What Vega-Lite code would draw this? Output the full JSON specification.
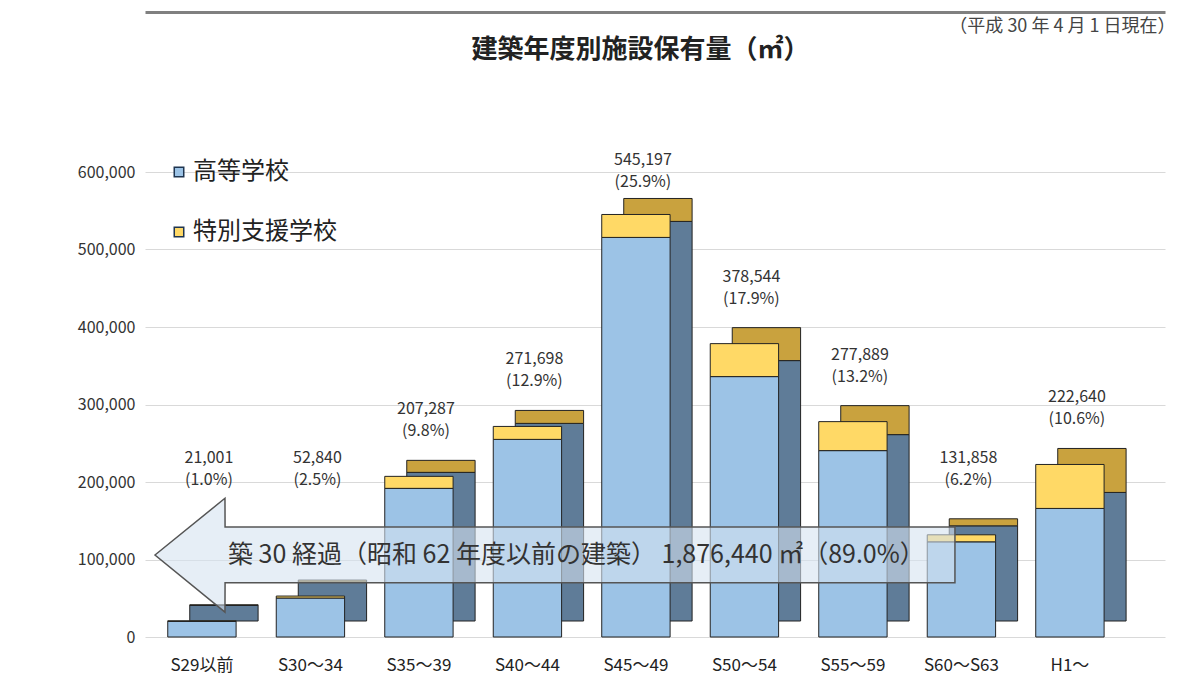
{
  "$schema": "https://vega.github.io/schema/vega-lite/v6.json",
  "width": 1020,
  "height": 465,
  "autosize": {"type": "none"},
  "padding": {"left": 145, "top": 172, "right": 15, "bottom": 63},
  "background": "white",
  "config": {"view": {"stroke": null}, "font": "Noto Sans CJK JP"},
  "datasets": {
    "bars": [
      {"period": "S29以前", "type": "高等学校", "area": 20000},
      {"period": "S29以前", "type": "特別支援学校", "area": 1001},
      {"period": "S30～34", "type": "高等学校", "area": 50300},
      {"period": "S30～34", "type": "特別支援学校", "area": 2540},
      {"period": "S35～39", "type": "高等学校", "area": 191800},
      {"period": "S35～39", "type": "特別支援学校", "area": 15487},
      {"period": "S40～44", "type": "高等学校", "area": 255000},
      {"period": "S40～44", "type": "特別支援学校", "area": 16698},
      {"period": "S45～49", "type": "高等学校", "area": 515600},
      {"period": "S45～49", "type": "特別支援学校", "area": 29597},
      {"period": "S50～54", "type": "高等学校", "area": 336000},
      {"period": "S50～54", "type": "特別支援学校", "area": 42544},
      {"period": "S55～59", "type": "高等学校", "area": 240500},
      {"period": "S55～59", "type": "特別支援学校", "area": 37389},
      {"period": "S60～S63", "type": "高等学校", "area": 122800},
      {"period": "S60～S63", "type": "特別支援学校", "area": 9058},
      {"period": "H1～", "type": "高等学校", "area": 165900},
      {"period": "H1～", "type": "特別支援学校", "area": 56740}
    ],
    "labels": [
      {"period": "S29以前", "total": 21001, "text": "21,001\n(1.0%)"},
      {"period": "S30～34", "total": 52840, "text": "52,840\n(2.5%)"},
      {"period": "S35～39", "total": 207287, "text": "207,287\n(9.8%)"},
      {"period": "S40～44", "total": 271698, "text": "271,698\n(12.9%)"},
      {"period": "S45～49", "total": 545197, "text": "545,197\n(25.9%)"},
      {"period": "S50～54", "total": 378544, "text": "378,544\n(17.9%)"},
      {"period": "S55～59", "total": 277889, "text": "277,889\n(13.2%)"},
      {"period": "S60～S63", "total": 131858, "text": "131,858\n(6.2%)"},
      {"period": "H1～", "total": 222640, "text": "222,640\n(10.6%)"}
    ],
    "arrow": [
      {"xa": 0.092, "top": 105800, "bottom": 105800},
      {"xa": 0.737, "top": 179000, "bottom": 32000},
      {"xa": 0.738, "top": 142000, "bottom": 70000},
      {"xa": 7.465, "top": 142000, "bottom": 70000}
    ],
    "arrowText": [
      {"xa": 0.765, "y": 105800, "text": "築 30 経過（昭和 62 年度以前の建築）  1,876,440 ㎡（89.0%）"}
    ]
  },
  "resolve": {"scale": {"x": "independent"}, "axis": {"x": "independent"}},
  "layer": [
    {
      "encoding": {
        "x": {
          "field": "period",
          "type": "nominal",
          "sort": ["S29以前", "S30～34", "S35～39", "S40～44", "S45～49", "S50～54", "S55～59", "S60～S63", "H1～"],
          "scale": {"paddingInner": 0.37, "paddingOuter": 0.3855, "align": 0.272},
          "axis": {
            "title": null,
            "labelAngle": 0,
            "labelFontSize": 17,
            "labelColor": "#222",
            "labelPadding": 20,
            "ticks": false,
            "domain": false,
            "grid": false
          }
        }
      },
      "layer": [
        {
          "data": {"name": "bars"},
          "mark": {"type": "bar", "xOffset": 22, "yOffset": -16, "stroke": "#222", "strokeWidth": 1},
          "encoding": {
            "y": {
              "field": "area",
              "type": "quantitative",
              "stack": "zero",
              "scale": {"domain": [0, 600000], "nice": false},
              "axis": {
                "values": [0, 100000, 200000, 300000, 400000, 500000, 600000],
                "format": ",",
                "labelExpr": "format(datum.value, ',')",
                "labelFontSize": 16,
                "labelColor": "#333",
                "labelPadding": 10,
                "ticks": false,
                "domain": false,
                "gridColor": "#d9d9d9",
                "title": "（平成 30 年 4 月 1 日現在）",
                "titleAngle": 0,
                "titleAlign": "right",
                "titleBaseline": "middle",
                "titleX": 1030,
                "titleY": -146,
                "titleFontSize": 18,
                "titleFontWeight": "normal",
                "titleColor": "#444"
              }
            },
            "order": {"field": "type", "type": "nominal", "sort": "descending"},
            "fill": {
              "condition": {"test": "datum.type === '高等学校'", "value": "#5f7c98"},
              "value": "#c9a23e"
            }
          }
        },
        {
          "data": {"name": "bars"},
          "mark": {"type": "bar", "stroke": "#222", "strokeWidth": 1},
          "encoding": {
            "y": {"field": "area", "type": "quantitative", "stack": "zero"},
            "order": {"field": "type", "type": "nominal", "sort": "descending"},
            "color": {
              "field": "type",
              "type": "nominal",
              "scale": {"domain": ["高等学校", "特別支援学校"], "range": ["#9cc3e6", "#ffd966"]},
              "legend": {
                "title": null,
                "orient": "none",
                "legendX": 22,
                "legendY": -12,
                "symbolType": "square",
                "symbolSize": 90,
                "symbolStrokeColor": "#1f3550",
                "symbolStrokeWidth": 1.5,
                "symbolOpacity": 1,
                "labelFontSize": 24,
                "labelColor": "#222",
                "labelOffset": 2,
                "rowPadding": 36
              }
            }
          }
        },
        {
          "data": {"name": "labels"},
          "transform": [{"filter": "datum.total >= 150000 && datum.total < 500000"}],
          "mark": {"type": "text", "baseline": "bottom", "lineBreak": "\n", "lineHeight": 22, "dx": 7, "dy": -59, "fontSize": 16, "color": "#333"},
          "encoding": {
            "y": {"field": "total", "type": "quantitative"},
            "text": {"field": "text"}
          }
        },
        {
          "data": {"name": "labels"},
          "transform": [{"filter": "datum.total >= 500000"}],
          "mark": {"type": "text", "baseline": "bottom", "lineBreak": "\n", "lineHeight": 22, "dx": 7, "dy": -46, "fontSize": 16, "color": "#333"},
          "encoding": {
            "y": {"field": "total", "type": "quantitative"},
            "text": {"field": "text"}
          }
        },
        {
          "data": {"name": "labels"},
          "transform": [{"filter": "datum.total < 150000"}],
          "mark": {"type": "text", "baseline": "bottom", "lineBreak": "\n", "lineHeight": 22, "dx": 7, "dy": -59, "fontSize": 16, "color": "#333"},
          "encoding": {
            "y": {
              "datum": 145000,
              "type": "quantitative",
              "axis": {
                "values": [0, 100000, 200000, 300000, 400000, 500000, 600000],
                "format": ",",
                "labelExpr": "format(datum.value, ',')",
                "labelFontSize": 16,
                "labelColor": "#333",
                "labelPadding": 10,
                "ticks": false,
                "domain": false,
                "gridColor": "#d9d9d9",
                "title": "（平成 30 年 4 月 1 日現在）",
                "titleAngle": 0,
                "titleAlign": "right",
                "titleBaseline": "middle",
                "titleX": 1030,
                "titleY": -146,
                "titleFontSize": 18,
                "titleFontWeight": "normal",
                "titleColor": "#444"
              }
            },
            "text": {"field": "text"}
          }
        }
      ]
    },
    {
      "encoding": {
        "x": {
          "field": "xa",
          "type": "quantitative",
          "scale": {"domain": [0, 9.401], "nice": false, "zero": false},
          "axis": {
            "orient": "top",
            "offset": 160,
            "labels": false,
            "ticks": false,
            "domain": true,
            "domainColor": "#808080",
            "domainWidth": 3,
            "grid": false,
            "title": "建築年度別施設保有量（㎡）",
            "titleFontSize": 26,
            "titleFontWeight": "bold",
            "titleColor": "#222",
            "titleAlign": "center",
            "titleBaseline": "middle",
            "titleX": 495,
            "titleY": 37
          }
        }
      },
      "layer": [
        {
          "data": {"name": "arrow"},
          "mark": {"type": "area", "fill": "#d6e2f0", "fillOpacity": 0.6, "stroke": "#555", "strokeWidth": 1.5, "interpolate": "linear"},
          "encoding": {
            "y": {"field": "top", "type": "quantitative", "stack": null},
            "y2": {"field": "bottom"}
          }
        },
        {
          "data": {"name": "arrowText"},
          "mark": {"type": "text", "align": "left", "baseline": "middle", "fontSize": 25, "color": "#333"},
          "encoding": {
            "y": {"field": "y", "type": "quantitative"},
            "text": {"field": "text"}
          }
        }
      ]
    }
  ]
}
